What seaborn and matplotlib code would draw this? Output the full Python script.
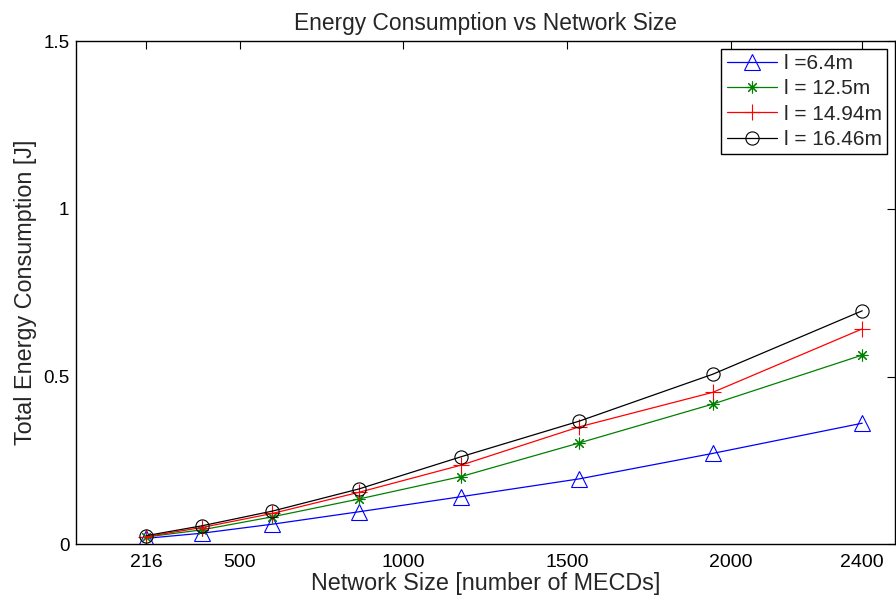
import matplotlib
matplotlib.use("Agg")
import matplotlib.pyplot as plt
import seaborn as sns
import pandas as pd

network_size = [216, 384, 600, 864, 1176, 1536, 1944, 2400]
energy_l64 = [0.018, 0.033, 0.060, 0.097, 0.142, 0.195, 0.271, 0.361]
energy_l125 = [0.022, 0.043, 0.082, 0.135, 0.202, 0.302, 0.418, 0.564]
energy_l1494 = [0.023, 0.050, 0.092, 0.155, 0.236, 0.350, 0.453, 0.642]
energy_l1646 = [0.026, 0.055, 0.099, 0.165, 0.261, 0.367, 0.507, 0.696]
series_labels = ["l =6.4m", "l = 12.5m", "l = 14.94m", "l = 16.46m"]
x_ticks = [216, 500, 1000, 1500, 2000, 2400]
y_ticks = [0, 0.5, 1, 1.5]
y_tick_labels = ["0", "0.5", "1", "1.5"]

sns.set_style("white")
plt.rcParams["font.family"] = ["Liberation Sans", "DejaVu Sans"]

fig = plt.figure(figsize=(8.96, 6.03), dpi=100)
ax = fig.add_axes([0.0845, 0.0973, 0.9144, 0.8347])

styles = [
    dict(color=(0, 0, 1), marker="^", markersize=11),
    dict(color=(0, 0.5, 0), marker=(8, 2, 0), markersize=8.5),
    dict(color=(1, 0, 0), marker="+", markersize=11),
    dict(color=(0, 0, 0), marker="o", markersize=9.5),
]
all_series = [energy_l64, energy_l125, energy_l1494, energy_l1646]
for vals, lab, st in zip(all_series, series_labels, styles):
    df = pd.DataFrame({"size": network_size, "energy": vals})
    sns.lineplot(data=df, x="size", y="energy", ax=ax, label=lab,
                 color=st["color"], marker=st["marker"], markersize=st["markersize"],
                 markerfacecolor="none", markeredgecolor=st["color"],
                 markeredgewidth=0.8, linewidth=0.9)

ax.set_xlim(0, 2500)
ax.set_ylim(0, 1.5)
ax.set_xticks(x_ticks)
ax.set_xticklabels([str(t) for t in x_ticks])
ax.set_yticks(y_ticks)
ax.set_yticklabels(y_tick_labels)
ax.tick_params(direction="in", length=6, width=0.8, top=True, right=True,
               colors="black")
ax.tick_params(axis="x", labelsize=14, pad=7)
ax.tick_params(axis="y", labelsize=13.5, pad=4.5)
for sp in ax.spines.values():
    sp.set_visible(True)
    sp.set_color("black")
    sp.set_linewidth(1.0)

ax.set_xlabel("Network Size [number of MECDs]", fontsize=16.8)
ax.set_ylabel("Total Energy Consumption [J]", fontsize=16.8)
ax.xaxis.set_label_coords(0.5, -0.0545)
ax.yaxis.set_label_coords(-0.047, 0.5)
ax.set_title("Energy Consumption vs Network Size", fontsize=16.4, pad=8)

leg = ax.legend(loc="upper right", fontsize=15, handlelength=2.4,
                labelspacing=0.3, borderaxespad=0.38, handletextpad=0.35,
                fancybox=False, framealpha=1, borderpad=0.25)
leg.get_frame().set_edgecolor("black")
leg.get_frame().set_linewidth(1.0)

fig.savefig("out.png", dpi=100)
